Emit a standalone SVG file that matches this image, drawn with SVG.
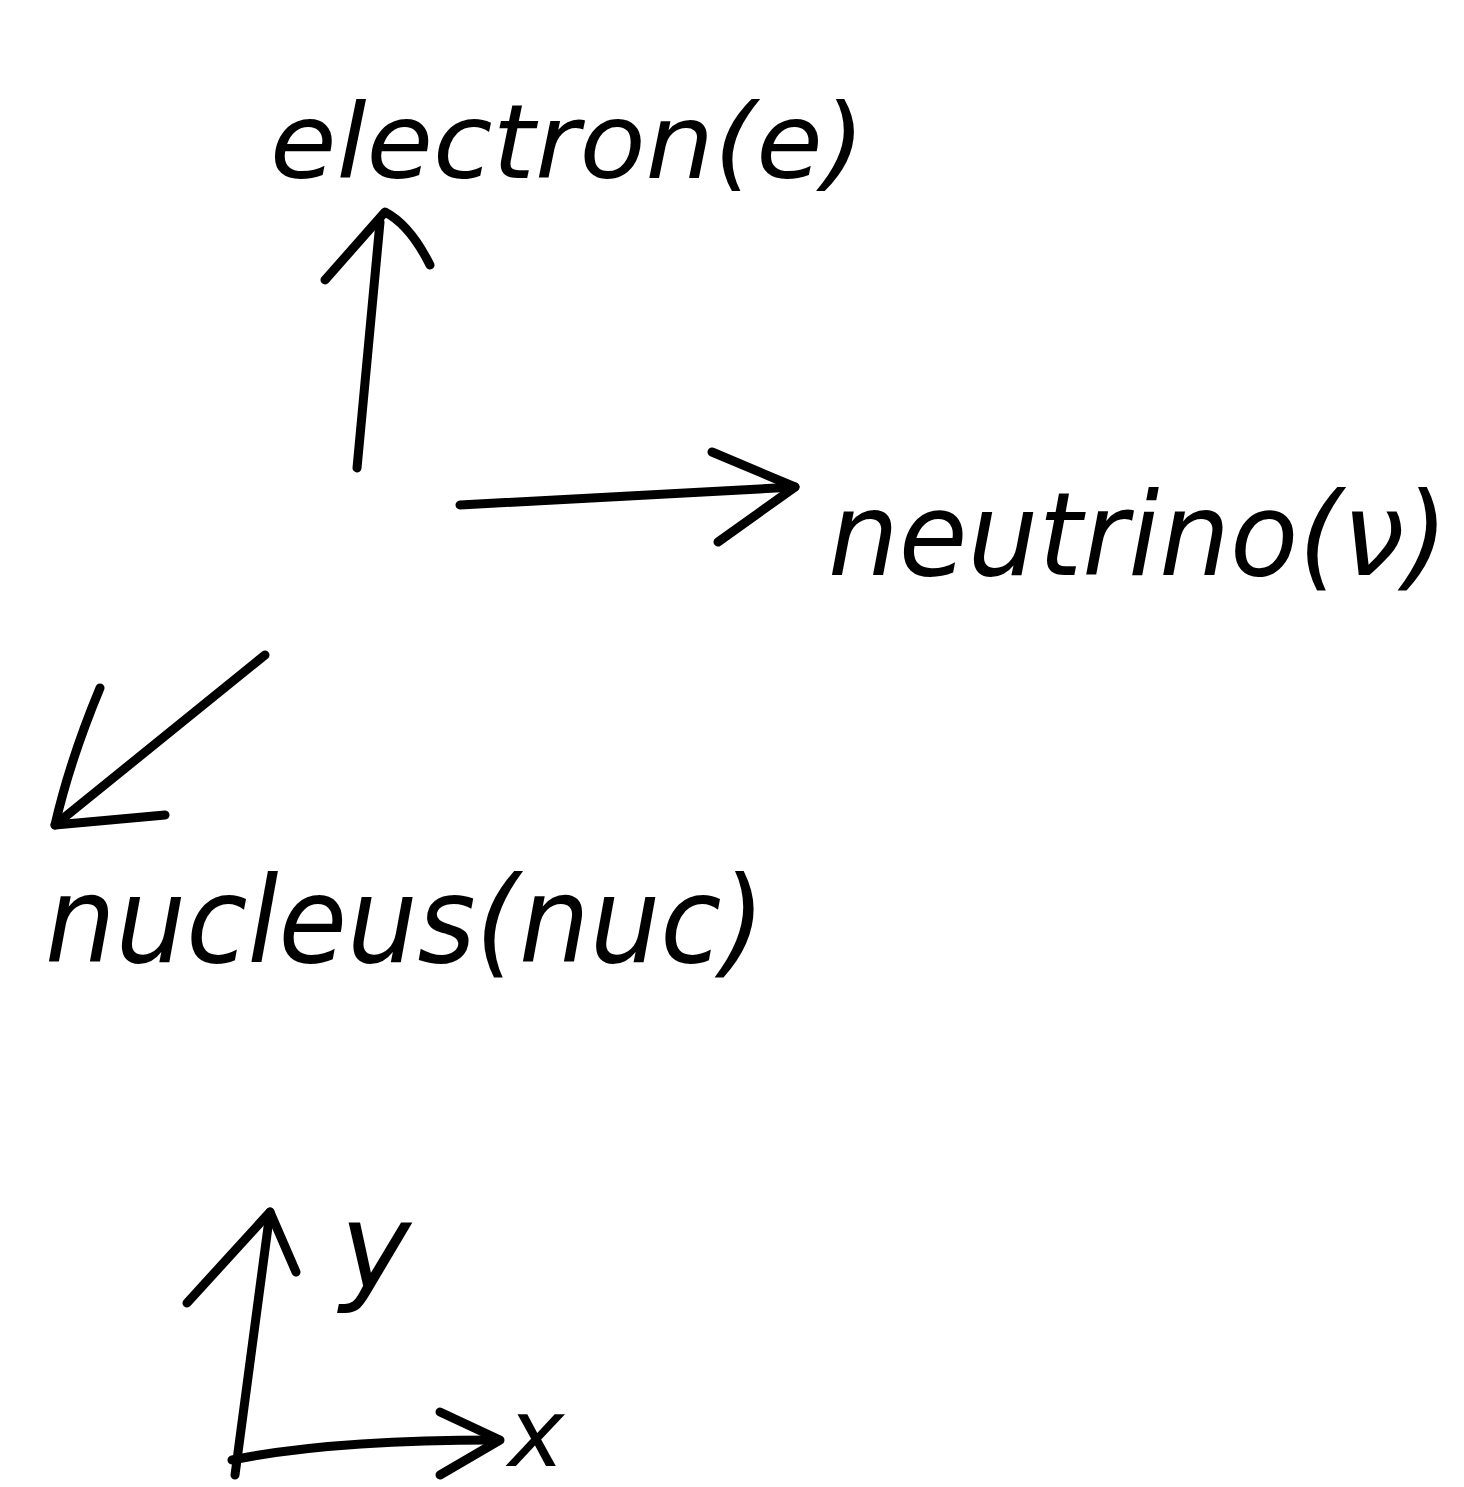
<svg xmlns="http://www.w3.org/2000/svg" width="1464" height="1487" viewBox="0 0 1464 1487">
<style>
.lbl{font-family:"DejaVu Sans",sans-serif;font-style:oblique;fill:#000}
.ln{fill:none;stroke:#000;stroke-width:9;stroke-linecap:round;stroke-linejoin:round}
</style>
<rect width="1464" height="1487" fill="#fff"/>
<g id="electron"><text class="lbl" x="270" y="178" font-size="104" textLength="595" lengthAdjust="spacingAndGlyphs">electron(e)</text></g>
<g id="neutrino"><text class="lbl" x="828" y="575" font-size="115" textLength="620" lengthAdjust="spacingAndGlyphs">neutrino(ν)</text></g>
<g id="nucleus"><text class="lbl" x="45" y="962" font-size="120" textLength="720" lengthAdjust="spacingAndGlyphs">nucleus(nuc)</text></g>
<g id="axis-y"><text class="lbl" x="340" y="1288" font-size="120">y</text></g>
<g id="axis-x"><text class="lbl" x="508" y="1466" font-size="95">x</text></g>
<g id="connectors">
<path class="ln" d="M357 468 L380 222"/>
<path class="ln" d="M325 280 L385 212 Q410 225 430 265"/>
<path class="ln" d="M460 505 L795 487"/>
<path class="ln" d="M712 452 L795 487 L718 542"/>
<path class="ln" d="M265 655 L55 825"/>
<path class="ln" d="M100 688 Q70 760 55 825 L165 815"/>
<path class="ln" d="M235 1475 L270 1212"/>
<path class="ln" d="M187 1303 L270 1212 L296 1272"/>
<path class="ln" d="M232 1460 Q330 1440 495 1440"/>
<path class="ln" d="M440 1412 L500 1440 L440 1475"/>
</g>
</svg>
